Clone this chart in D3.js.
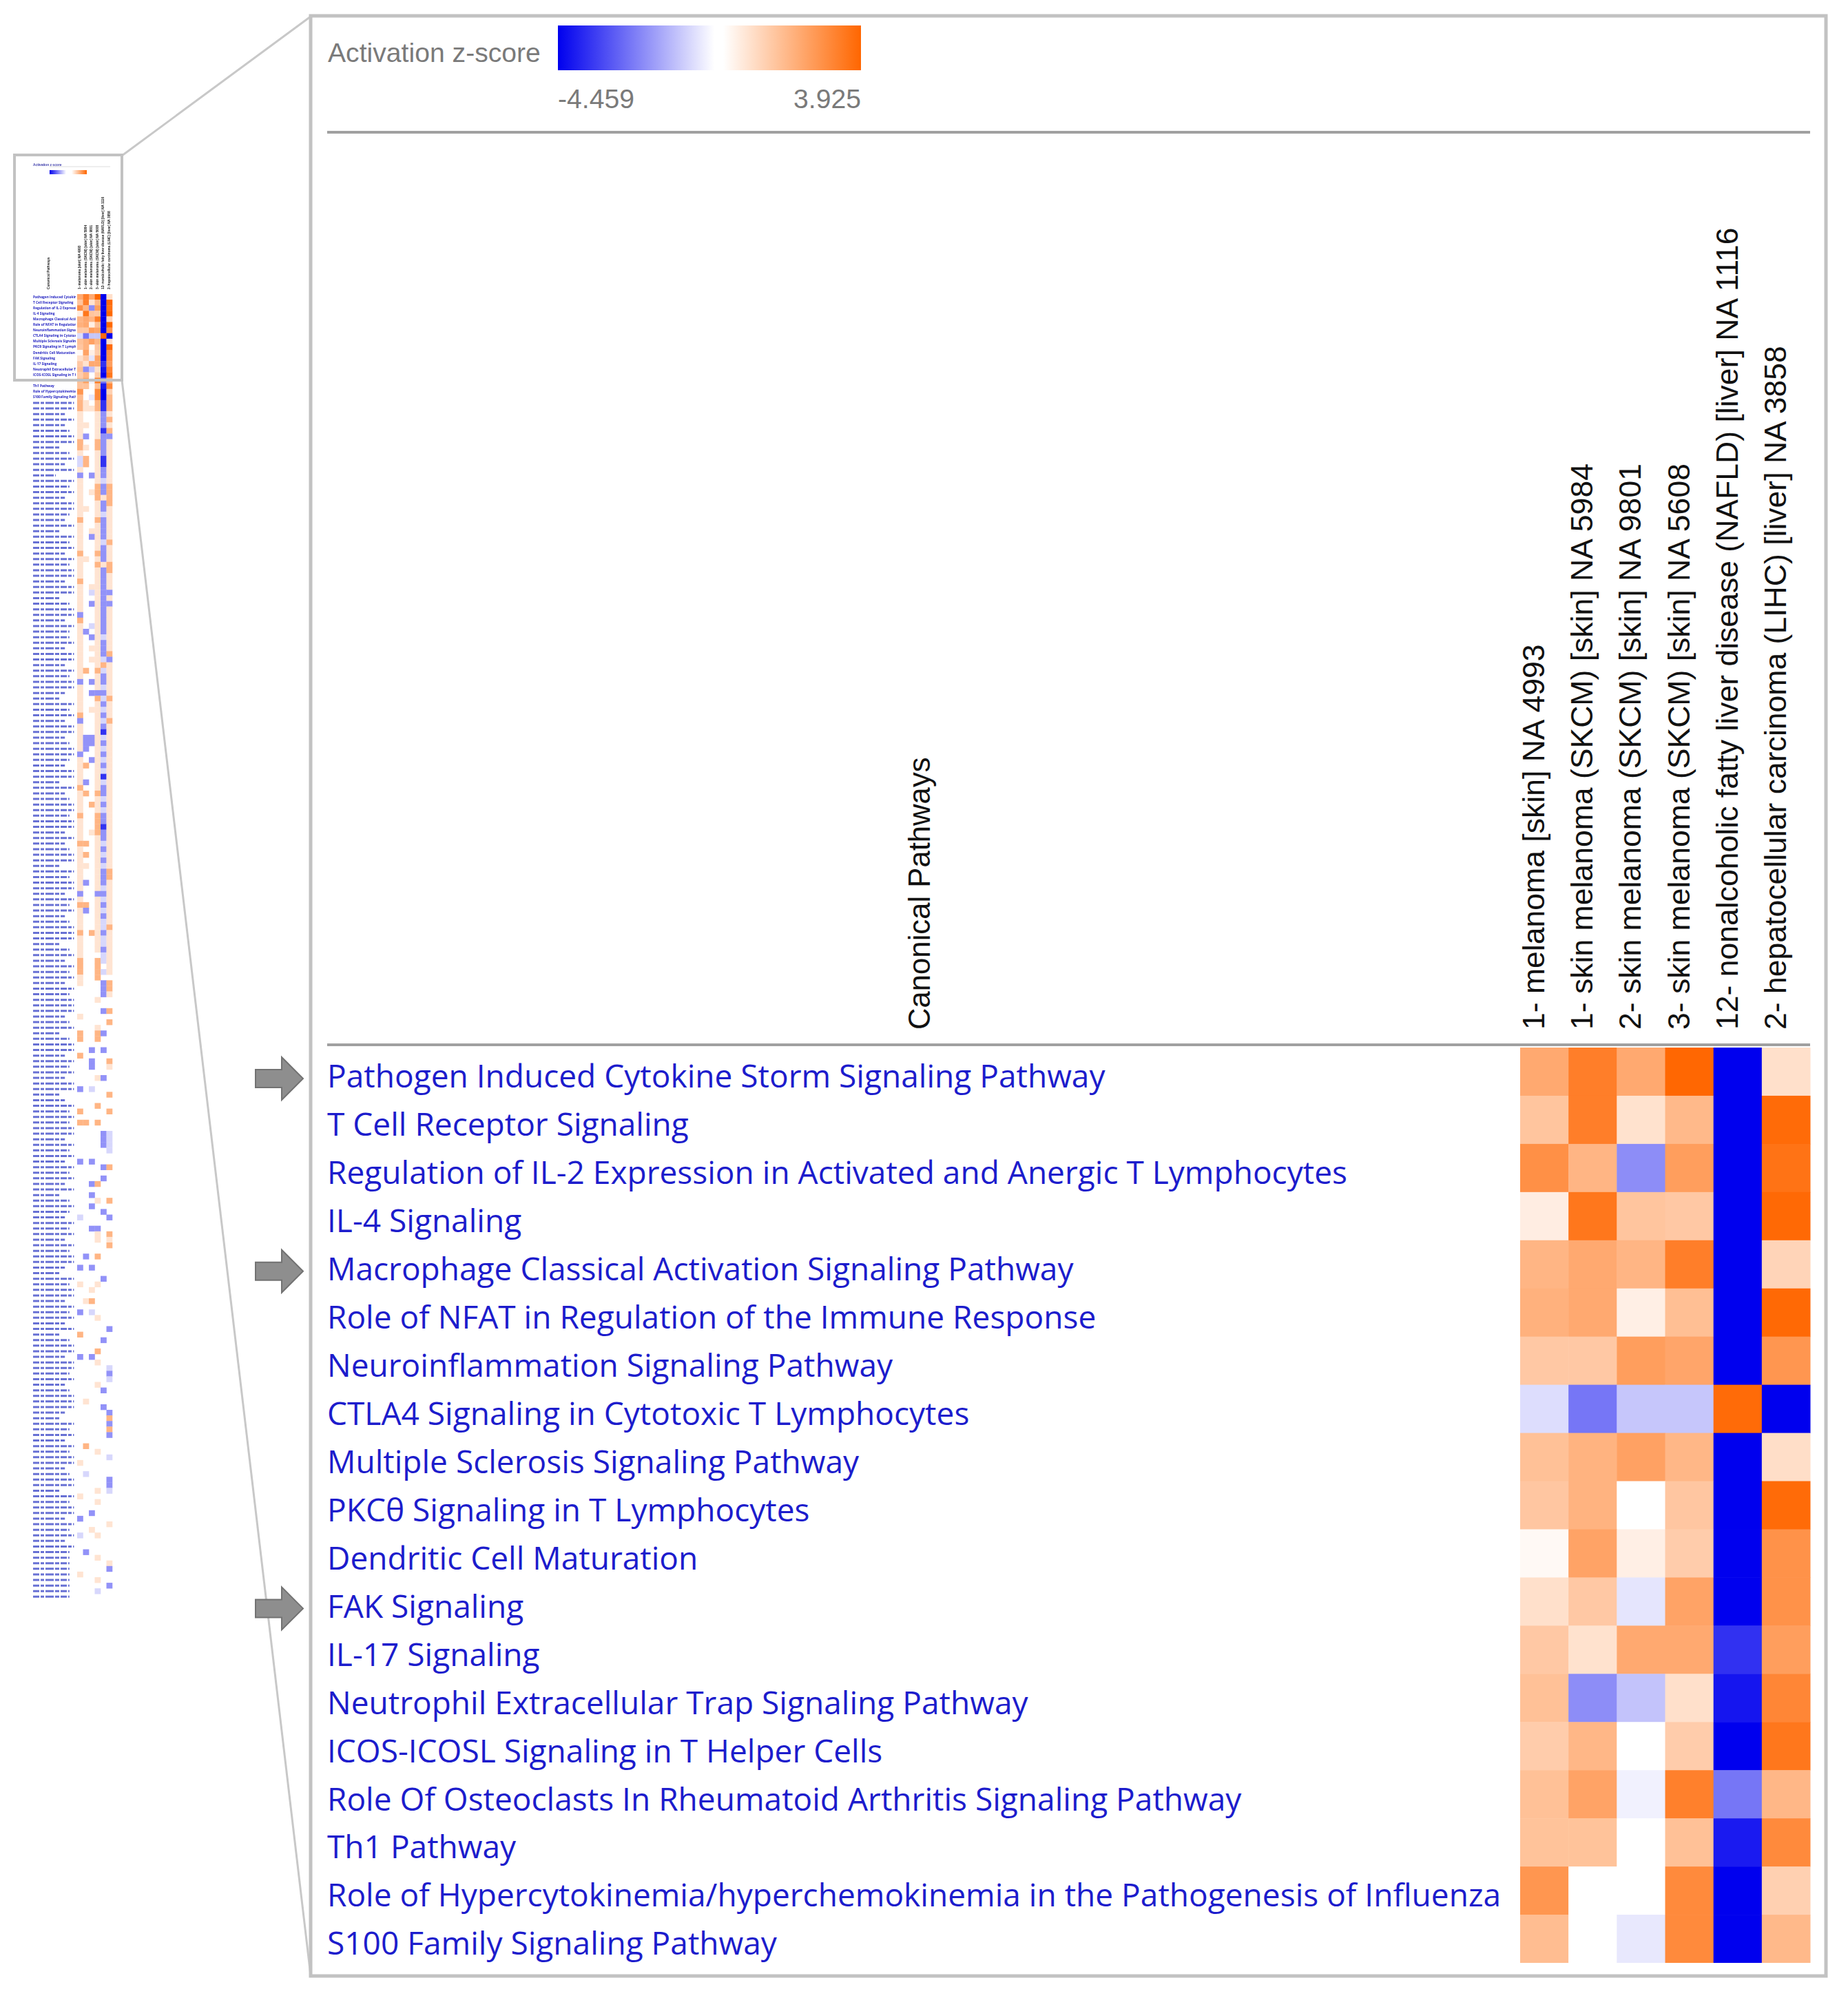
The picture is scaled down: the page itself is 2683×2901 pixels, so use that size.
<!DOCTYPE html>
<html><head><meta charset="utf-8">
<script src="https://cdn.jsdelivr.net/npm/d3@7"></script>
<style>html,body{margin:0;padding:0;background:#fff;} svg{display:block}</style>
</head><body>
<svg id="c" width="2683" height="2901"></svg>
<script>
// ---------------- DATA ----------------
const pathways = [
  "Pathogen Induced Cytokine Storm Signaling Pathway",
  "T Cell Receptor Signaling",
  "Regulation of IL-2 Expression in Activated and Anergic T Lymphocytes",
  "IL-4 Signaling",
  "Macrophage Classical Activation Signaling Pathway",
  "Role of NFAT in Regulation of the Immune Response",
  "Neuroinflammation Signaling Pathway",
  "CTLA4 Signaling in Cytotoxic T Lymphocytes",
  "Multiple Sclerosis Signaling Pathway",
  "PKCθ Signaling in T Lymphocytes",
  "Dendritic Cell Maturation",
  "FAK Signaling",
  "IL-17 Signaling",
  "Neutrophil Extracellular Trap Signaling Pathway",
  "ICOS-ICOSL Signaling in T Helper Cells",
  "Role Of Osteoclasts In Rheumatoid Arthritis Signaling Pathway",
  "Th1 Pathway",
  "Role of Hypercytokinemia/hyperchemokinemia in the Pathogenesis of Influenza",
  "S100 Family Signaling Pathway"
];
const samples = [
  "1- melanoma [skin] NA 4993",
  "1- skin melanoma (SKCM) [skin] NA 5984",
  "2- skin melanoma (SKCM) [skin] NA 9801",
  "3- skin melanoma (SKCM) [skin] NA 5608",
  "12- nonalcoholic fatty liver disease (NAFLD) [liver] NA 1116",
  "2- hepatocellular carcinoma (LIHC) [liver] NA 3858"
];
// activation z-scores, one array per pathway (columns follow `samples`); null = no value
const zscores = [
  [2.2, 3.3, 2.2, 3.9, -4.459, 0.8],
  [1.5, 3.3, 0.75, 1.8, -4.459, 3.8],
  [2.85, 1.9, -2.0, 2.5, -4.459, 3.6],
  [0.45, 3.5, 1.5, 1.4, -4.459, 3.85],
  [1.9, 2.2, 1.9, 3.3, -4.459, 1.1],
  [2.0, 2.2, 0.4, 1.65, -4.459, 3.85],
  [1.4, 1.4, 2.5, 2.3, -4.459, 2.7],
  [-0.6, -2.4, -1.0, -1.0, 3.8, -4.459],
  [1.6, 1.95, 2.4, 1.85, -4.459, 0.85],
  [1.45, 1.95, null, 1.45, -4.459, 3.8],
  [0.15, 2.35, 0.4, 1.3, -4.459, 2.8],
  [0.8, 1.4, -0.45, 2.35, -4.459, 2.8],
  [1.4, 0.75, 2.2, 2.2, -3.6, 2.5],
  [1.6, -2.0, -1.05, 0.8, -4.1, 3.1],
  [1.3, 1.85, null, 1.3, -4.459, 3.5],
  [1.6, 2.35, -0.25, 3.25, -2.4, 1.85],
  [1.55, 1.55, null, 1.6, -4.0, 3.0],
  [2.7, null, null, 3.0, -4.459, 1.2],
  [1.7, null, -0.4, 3.0, -4.459, 1.8]
];
const highlighted = [
  "Pathogen Induced Cytokine Storm Signaling Pathway",
  "Macrophage Classical Activation Signaling Pathway",
  "FAK Signaling"
];
const zMin = -4.459, zMax = 3.925;
const legendTitle = "Activation z-score";
const legendTicks = ["-4.459", "3.925"];
const rowHeaderTitle = "Canonical Pathways";

// Overview thumbnail: the remaining pathway rows below the 19 shown,
// one string per row, one character per sample column, read coarsely from the miniature.
// O strong orange, o orange, . light orange, , light blue, b blue, B strong blue, space = no value
const thumbCodes = { "O": 3.2, "o": 1.9, ".": 0.7, ",": -0.7, "b": -1.9, "B": -3.6, " ": null };
const thumbRows = [
  "o. oBo","o..oBo",".  .b.",".  .bo",".. .b.",".  .Bo",".b .bb","o  ob.","o. ob.",".  .b.",
  ",o .B.",",o .B.",".  .b.","b b.b.",".  .,.",".  obo",". .obo",".  o.o",".  .bo",".. .b.",
  ".  .,.","o  ob.",".  .b.",". ..b.",". b.b.",".  .,o",".  .b.","o  ob.",".. .b.",".  o.o",
  ".  .bo",".  .b.","o  .b.",". ..b.",". ,.bb",".  .b.",". b.bb",".  .b.","b  .b.","o  .b.",
  ". ,.b.",".b .b.",". b.,.",".  .b.",". ..b.",".  .bo",". ..,b",".  .o.",".o o,.",".  .b.",
  "b b.b.",".  .,.",". bbb.",".  o,o",".  .b.",". ..,.","o  .b.","b  .,o",".  .b.",".  .B.",
  ".bb.,.",".bb.b.",".b .,.","b  .b.",". b.,.",".o .b.",".  .,.",".  .B.",".b .,.","o  .b.",
  ".o ob.",".  .,.",". o.b.",".  .,.","o  ob.",".  ob.",".  oB.",". .ob.",".  .b.","oo .,.",
  ".  .b.",".o .,.",".  .b.",".. .,.",".  .bo",".  .bo",".b .b.",".  .,.","b  bb.",".  .,.",
  "oo .b.",".b .,.",".  .b.",".  .,.",".  .,o","o o.b.",".  .,.",".  .,.",".  .b.",".   ,.",
  "o  o,.","o  o .","o  o,.",".  o  ",".   bo","    bo","    b.","   .  ","      ","    bo",
  ".     ","     o","   .  ","o  ob ","o  o  ","      ","  b b ","o     ","  b  o","  b  .",
  "      ","   .b ","      ","b ,   ","     o","      ","   o  ","o    o","      ","oo o  ",
  "      ","    b,","    b,","    b,","     ,","      ","b b   ","    bo","      ","    b ",
  "  bo  ","      ","  b   ","   . o","  b   ","    b ",",    b","      ","  bb  ","   . o",
  "   . .","     o","      "," b o  ","      ","b b   ","      ","    b ",".  .  ","  .   ",
  "      "," .o   ","      ","b ,   ","   .  ","      ","     b","o     ","    b ","      ",
  "   o  ","b b   ","   .  ","     ,","     b","     ,","   .  ","    b ","      "," .    ",
  "    b ","     b","     o","     b","     o","     b","      "," o    ","   .  ","     ,",
  ".     ","      "," ,    ","     b","     b","   . ,",".     ","   .  ","      ","  b   ",
  "b     ","     .","  .   ",",  .  ","      ","      "," b    ","   .  ","     .","     b",
  ".     ","   .  ","     b","   ,  ","      "
];
// approximate length of each thumbnail row label (1..9, ninths of the label column)
const thumbLabelLen =
  "99797899689795989799879698979899799689979889799798997698979978998799697899" +
  "89979789969899798978999689798979899978968997989799679898997989798979689879" +
  "8979899769899798979689979989789997698979899789969899798979";

// ---------------- SETUP ----------------
const svg = d3.select("#c");
const color = d3.scaleLinear().domain([zMin, 0, zMax]).range(["#0000ee", "#ffffff", "#ff6600"]).clamp(true);
const fillOf = v => v == null ? "#ffffff" : color(v);

const defs = svg.append("defs");
const gB = defs.append("linearGradient").attr("id", "gBlue");
gB.append("stop").attr("offset", "0%").attr("stop-color", color(zMin));
gB.append("stop").attr("offset", "100%").attr("stop-color", "#ffffff");
const gO = defs.append("linearGradient").attr("id", "gOrange");
gO.append("stop").attr("offset", "0%").attr("stop-color", "#ffffff");
gO.append("stop").attr("offset", "100%").attr("stop-color", color(zMax));
defs.append("clipPath").attr("id", "panelClip").append("rect")
  .attr("x", 455).attr("y", 27).attr("width", 2192).attr("height", 2823);
defs.append("filter").attr("id", "soft").append("feGaussianBlur").attr("stdDeviation", 0.7);
defs.append("clipPath").attr("id", "thumbLab").append("rect")
  .attr("x", 40).attr("y", 220).attr("width", 70).attr("height", 2200);

function fitSize(text, family, base, target, weight) {
  const t = svg.append("text").attr("font-family", family).attr("font-size", base)
    .attr("font-weight", weight || "normal").text(text);
  const w = t.node().getComputedTextLength();
  t.remove();
  return base * target / w;
}
const labFont = "'Segoe UI', 'Open Sans', 'Noto Sans', sans-serif";
const hdrFont = "'Liberation Sans', Arial, sans-serif";

// ---------------- LEADER LINES ----------------
svg.append("line").attr("x1", 177).attr("y1", 226).attr("x2", 451).attr("y2", 24)
  .attr("stroke", "#c8c8c8").attr("stroke-width", 3);
svg.append("line").attr("x1", 177).attr("y1", 552).attr("x2", 451).attr("y2", 2868)
  .attr("stroke", "#c8c8c8").attr("stroke-width", 3);

// ---------------- MAIN PANEL ----------------
svg.append("rect").attr("x", 451).attr("y", 23).attr("width", 2200).attr("height", 2846)
  .attr("fill", "#fff").attr("stroke", "#c2c2c2").attr("stroke-width", 5);

const main = svg.append("g").attr("clip-path", "url(#panelClip)");

const legSize = fitSize(legendTitle, hdrFont, 30, 309);
main.append("text").attr("x", 476).attr("y", 90).attr("font-family", hdrFont)
  .attr("font-size", legSize).attr("fill", "#7a7a7a").text(legendTitle);
main.append("rect").attr("x", 810).attr("y", 37).attr("width", 227).attr("height", 65).attr("fill", "url(#gBlue)");
main.append("rect").attr("x", 1050).attr("y", 37).attr("width", 200).attr("height", 65).attr("fill", "url(#gOrange)");
main.append("text").attr("x", 810).attr("y", 157).attr("font-family", hdrFont)
  .attr("font-size", legSize).attr("fill", "#7a7a7a").text(legendTicks[0]);
main.append("text").attr("x", 1250).attr("y", 157).attr("text-anchor", "end").attr("font-family", hdrFont)
  .attr("font-size", legSize).attr("fill", "#7a7a7a").text(legendTicks[1]);
main.append("line").attr("x1", 475).attr("x2", 2628).attr("y1", 192).attr("y2", 192)
  .attr("stroke", "#a0a0a0").attr("stroke-width", 4);

const x = d3.scaleBand().domain(samples).range([2207, 2628]);
const y = d3.scaleBand().domain(pathways).range([1521, 2850]);

const hdrSize = fitSize(samples[4], hdrFont, 40, 1165);
main.selectAll("text.col").data(samples).join("text").attr("class", "col")
  .attr("transform", d => `translate(${x(d) + x.bandwidth() / 2},1495) rotate(-90)`)
  .attr("font-family", hdrFont).attr("font-size", hdrSize).attr("fill", "#111").text(d => d);
main.append("text").attr("transform", "translate(1350,1495) rotate(-90)")
  .attr("font-family", hdrFont).attr("font-size", hdrSize * 0.98).attr("fill", "#111").text(rowHeaderTitle);
main.append("line").attr("x1", 475).attr("x2", 2628).attr("y1", 1517).attr("y2", 1517)
  .attr("stroke", "#a0a0a0").attr("stroke-width", 4);

const cells = [];
zscores.forEach((row, i) => row.forEach((v, j) => cells.push({ p: pathways[i], s: samples[j], v })));
main.selectAll("rect.cell").data(cells).join("rect").attr("class", "cell")
  .attr("x", d => x(d.s)).attr("y", d => y(d.p))
  .attr("width", x.bandwidth() + 0.5).attr("height", y.bandwidth() + 0.5)
  .attr("fill", d => fillOf(d.v));

const labSize = fitSize(pathways[0], labFont, 36, 1130);
main.selectAll("text.row").data(pathways).join("text").attr("class", "row")
  .attr("x", 475).attr("y", d => y(d) + y.bandwidth() / 2 + 11)
  .attr("dominant-baseline", "middle")
  .attr("font-family", labFont).attr("font-size", labSize).attr("fill", "#1c1ccc").text(d => d);

const arrow = "M371,-13 L409,-13 L409,-31 L440,0 L409,31 L409,13 L371,13 Z";
svg.selectAll("path.arrow").data(highlighted).join("path").attr("class", "arrow")
  .attr("transform", d => `translate(0,${y(d) + y.bandwidth() / 2 + 10})`)
  .attr("d", arrow).attr("fill", "#8e8e8e").attr("stroke", "#727272").attr("stroke-width", 2);

// ---------------- THUMBNAIL ----------------
const thumb = svg.append("g").attr("filter", "url(#soft)");
const tRowH = 8.1;
const nThumb = pathways.length + thumbRows.length;
const tx = d3.scaleBand().domain(d3.range(samples.length)).range([112, 163]);
const ty = d3.scaleBand().domain(d3.range(nThumb)).range([427, 427 + tRowH * nThumb]);

thumb.append("text").attr("x", 48).attr("y", 241).attr("font-family", hdrFont).attr("font-size", 4.8)
  .attr("font-weight", "bold").attr("fill", "#3a3aaa").text(legendTitle);
thumb.append("rect").attr("x", 72).attr("y", 247).attr("width", 24).attr("height", 6).attr("fill", "url(#gBlue)");
thumb.append("rect").attr("x", 104).attr("y", 247).attr("width", 22).attr("height", 6).attr("fill", "url(#gOrange)");
thumb.append("line").attr("x1", 72).attr("x2", 160).attr("y1", 242).attr("y2", 242).attr("stroke", "#ddd").attr("stroke-width", 1);
thumb.selectAll("text.tcol").data(samples).join("text").attr("class", "tcol")
  .attr("transform", (d, i) => `translate(${tx(i) + tx.bandwidth() / 2 + 1},420) rotate(-90)`)
  .attr("font-family", hdrFont).attr("font-size", 4.8).attr("font-weight", "bold").attr("fill", "#222").text(d => d);
thumb.append("text").attr("transform", "translate(72,420) rotate(-90)")
  .attr("font-family", hdrFont).attr("font-size", 4.8).attr("font-weight", "bold").attr("fill", "#222").text(rowHeaderTitle);

const tcells = [];
zscores.forEach((row, i) => row.forEach((v, j) => tcells.push({ r: i, c: j, v })));
thumbRows.forEach((s, k) => s.split("").forEach((ch, j) => tcells.push({ r: pathways.length + k, c: j, v: thumbCodes[ch] })));
thumb.selectAll("rect.tcell").data(tcells.filter(d => d.v != null)).join("rect").attr("class", "tcell")
  .attr("x", d => tx(d.c)).attr("y", d => ty(d.r))
  .attr("width", tx.bandwidth() + 0.3).attr("height", ty.bandwidth() + 0.3)
  .attr("fill", d => fillOf(d.v));

const tlab = thumb.append("g").attr("clip-path", "url(#thumbLab)");
tlab.selectAll("text").data(pathways).join("text")
  .attr("x", 48).attr("y", (d, i) => ty(i) + tRowH / 2 + 1.5)
  .attr("font-family", labFont).attr("font-size", 4.8).attr("font-weight", "bold").attr("fill", "#2020c0").text(d => d);
tlab.selectAll("line").data(thumbRows.map((s, k) => ({ r: pathways.length + k, len: +thumbLabelLen[k] || 8 })))
  .join("line")
  .attr("x1", 48).attr("x2", d => 48 + d.len * 6.6)
  .attr("y1", d => ty(d.r) + tRowH / 2).attr("y2", d => ty(d.r) + tRowH / 2)
  .attr("stroke", "#2f3cc4").attr("stroke-opacity", 0.72).attr("stroke-width", 3)
  .attr("stroke-dasharray", "9,2,5,2,12,2,6,2");

svg.append("rect").attr("x", 21).attr("y", 225).attr("width", 156).attr("height", 327)
  .attr("fill", "none").attr("stroke", "#c2c2c2").attr("stroke-width", 4);
</script>
</body></html>
